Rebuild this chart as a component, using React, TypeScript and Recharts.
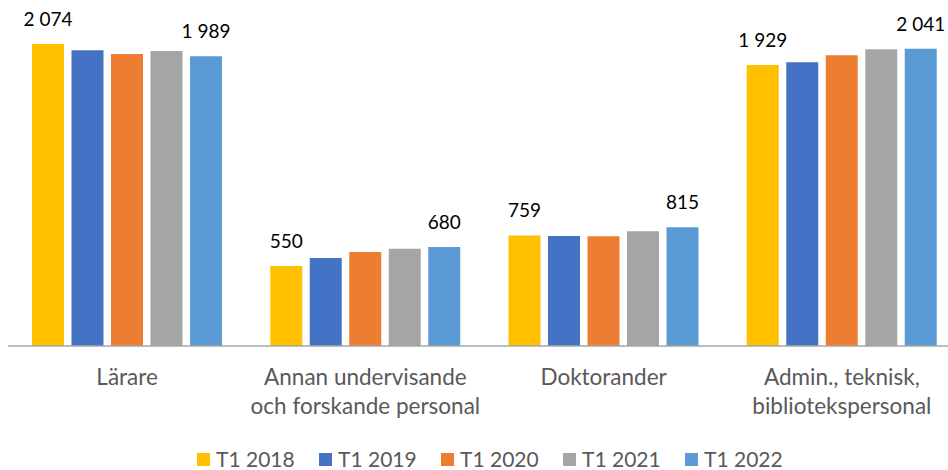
import { Bar, BarChart, LabelList, XAxis, YAxis } from 'recharts'

const categories = [
  'Lärare',
  'Annan undervisande\noch forskande personal',
  'Doktorander',
  'Admin., teknisk,\nbibliotekspersonal',
]

const t1_2018 = [2074, 550, 759, 1929]
const t1_2019 = [2030, 604, 756, 1948]
const t1_2020 = [2005, 646, 754, 1996]
const t1_2021 = [2025, 667, 787, 2038]
const t1_2022 = [1989, 680, 815, 2041]

const series = [
  { key: 'y2018', name: 'T1 2018', color: '#FFC000', values: t1_2018, labels: true },
  { key: 'y2019', name: 'T1 2019', color: '#4472C4', values: t1_2019, labels: false },
  { key: 'y2020', name: 'T1 2020', color: '#ED7D31', values: t1_2020, labels: false },
  { key: 'y2021', name: 'T1 2021', color: '#A5A5A5', values: t1_2021, labels: false },
  { key: 'y2022', name: 'T1 2022', color: '#5B9BD5', values: t1_2022, labels: true },
]

const data = categories.map((name, i) => {
  const row: Record<string, string | number> = { name }
  series.forEach((s) => {
    row[s.key] = s.values[i]
  })
  return row
})

const FONT = 'Lato, "Open Sans", sans-serif'

const formatNumber = (n: number) =>
  String(n).replace(/\B(?=(\d{3})+(?!\d))/g, ' ')

const CategoryTick = (props: any) => {
  const { x, y, payload } = props
  const lines = String(payload.value).split('\n')
  return (
    <text
      x={x}
      y={y + 39}
      textAnchor="middle"
      fill="#595959"
      fontSize={22.5}
      fontFamily={FONT}
    >
      {lines.map((line, i) => (
        <tspan key={i} x={x} dy={i === 0 ? 0 : 29}>
          {line}
        </tspan>
      ))}
    </text>
  )
}

const ValueLabel = (props: any) => {
  const { x, y, width, value } = props
  return (
    <text
      x={x + width / 2}
      y={y - 18}
      textAnchor="middle"
      fill="#000"
      fontSize={19}
      fontFamily={FONT}
    >
      {formatNumber(value)}
    </text>
  )
}

export default function App() {
  return (
    <div
      style={{
        position: 'fixed',
        left: 0,
        top: 0,
        width: 948,
        height: 470,
        overflow: 'hidden',
        background: '#fff',
      }}
    >
      <BarChart
        width={970}
        height={470}
        data={data}
        margin={{ top: 11, right: 9, bottom: 0, left: 8 }}
        barCategoryGap={24}
        barGap={7.5}
      >
        <XAxis
          dataKey="name"
          axisLine={{ stroke: '#A6A6A6', strokeWidth: 1.5 }}
          tickLine={false}
          tickSize={0}
          tickMargin={0}
          height={124}
          interval={0}
          tick={<CategoryTick />}
        />
        <YAxis hide domain={[0, 2300]} />
        {series.map((s) => (
          <Bar
            key={s.key}
            dataKey={s.key}
            name={s.name}
            fill={s.color}
            isAnimationActive={false}
          >
            {s.labels && <LabelList dataKey={s.key} content={<ValueLabel />} />}
          </Bar>
        ))}
      </BarChart>
      {series.map((s, i) => (
        <div
          key={s.key}
          style={{
            position: 'absolute',
            left: 197 + i * 122,
            top: 446.5,
            height: 24,
            lineHeight: '24px',
            display: 'flex',
            alignItems: 'center',
            fontFamily: FONT,
            fontSize: 21,
            color: '#595959',
            whiteSpace: 'nowrap',
          }}
        >
          <span
            style={{
              display: 'inline-block',
              width: 13,
              height: 13,
              background: s.color,
              marginRight: 6,
              position: 'relative',
              top: 1,
            }}
          />
          {s.name}
        </div>
      ))}
    </div>
  )
}
